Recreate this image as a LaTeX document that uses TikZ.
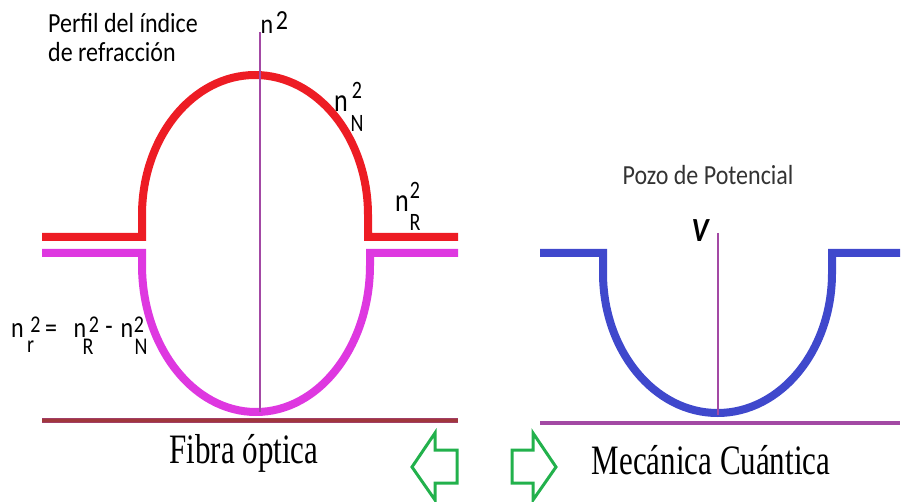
\documentclass[tikz,border=0pt]{standalone}
\usepackage{fontspec}
\usepackage{graphicx}
\newfontfamily\carlito{Carlito}
\newfontfamily\tnr{Liberation Serif}
\definecolor{cred}{HTML}{ED1C24}
\definecolor{cmag}{HTML}{DE38E0}
\definecolor{cblue}{HTML}{3F48CC}
\definecolor{caxis}{HTML}{A349A4}
\definecolor{cbase}{HTML}{A0373C}
\definecolor{cgreen}{HTML}{22B14C}
\begin{document}
\begin{tikzpicture}[x=1pt,y=-1pt,
  lbl/.style={font=\carlito\fontsize{24}{24}\selectfont, inner sep=0pt},
  big/.style={font=\carlito\fontsize{26}{26}\selectfont, inner sep=0pt},
  small/.style={font=\carlito\fontsize{20}{20}\selectfont, inner sep=0pt, text depth=0pt},
  title/.style={font=\tnr\fontsize{31}{31}\selectfont, inner sep=0pt},
  curve/.style={line width=8pt, line join=miter},
  axisline/.style={caxis, line width=2.5pt},
  garrow/.style={cgreen, line width=3pt, line join=miter}]
\useasboundingbox (0,0) rectangle (901,502);
% ---------- left: optical fibre ----------
\draw[cbase!60!caxis, line width=5pt] (42,420) -- (458,420);
\draw[cbase, line width=3pt] (42,420) -- (458,420);
\draw[curve, cred] (42,237) -- (142,237) -- (142,215)
  arc[start angle=180, end angle=360, x radius=113, y radius=140]
  -- (368,237) -- (458,237);
\draw[curve, cmag] (42,253) -- (142,253) -- (142,265)
  arc[start angle=180, end angle=0, x radius=114, y radius=147]
  -- (370,253) -- (458,253);
\draw[axisline] (260,32) -- (260,412);
% labels left
\node[lbl, anchor=base west] (t1) at (48,33) {\scalebox{1}[1.15]{Perfil del índice}};
\node[lbl, anchor=base west] (t2) at (48,62) {\scalebox{1}[1.15]{de refracción}};
\node[lbl] (ntop) at (267,27) {\scalebox{1}[1.15]{n}};
\node[lbl] (ntops) at (282,21) {\scalebox{1}[1.15]{2}};
\node[big] (nN) at (341,104) {\scalebox{1}[1.25]{n}};
\node[small] (nNs) at (357,90) {\scalebox{1}[1.25]{2}};
\node[small] (nNi) at (357,123) {\scalebox{1}[1.25]{N}};
\node[big] (nR) at (402,204) {\scalebox{1}[1.25]{n}};
\node[small] (nRs) at (415,190) {\scalebox{1}[1.25]{2}};
\node[small] (nRi) at (415,222) {\scalebox{1}[1.25]{R}};
% formula
\node[lbl] (f1) at (17.5,331) {\scalebox{1}[1.2]{n}};
\node[small] (f1s) at (35.5,325) {\scalebox{1}[1.2]{2}};
\node[small] (f1i) at (30.5,347) {\scalebox{1}[1.2]{r}};
\node[lbl] (feq) at (51,331) {\scalebox{1}[1.2]{=}};
\node[lbl] (f2) at (80,331) {\scalebox{1}[1.2]{n}};
\node[small] (f2i) at (88,347) {\scalebox{1}[1.2]{R}};
\node[small] (f2s) at (94,325) {\scalebox{1}[1.2]{2}};
\node[lbl] (fmin) at (109,331) {\scalebox{1}[1.2]{-}};
\node[lbl] (f3) at (127,331) {\scalebox{1}[1.2]{n}};
\node[small] (f3s) at (139,325) {\scalebox{1}[1.2]{2}};
\node[small] (f3i) at (141,347) {\scalebox{1}[1.2]{N}};
\node[title] (fibra) at (244,453) {\scalebox{1}[1.35]{Fibra óptica}};
% ---------- right: quantum well ----------
\draw[caxis, line width=4pt] (540,423) -- (900,423);
\draw[curve, cblue] (540,253) -- (603,253) -- (603,273)
  arc[start angle=180, end angle=0, x radius=114.5, y radius=140]
  -- (832,253) -- (900,253);
\draw[axisline] (718,233) -- (718,415);
\node[lbl, text=black!80] (pozo) at (708,175) {\scalebox{1}[1.15]{Pozo de Potencial}};
\node[big] (V) at (700,231) {\scalebox{1.1}[1.3]{\bfseries\itshape V}};
\node[title] (mec) at (711,460) {\scalebox{1}[1.35]{Mecánica Cuántica}};
% ---------- arrows ----------
\draw[garrow] (412,467) -- (435,433) -- (435,450) -- (457,450) -- (457,483)
  -- (435,483) -- (435,500) -- cycle;
\draw[garrow] (512,450) -- (533,450) -- (533,433) -- (556,467) -- (533,500)
  -- (533,483) -- (512,483) -- cycle;
\end{tikzpicture}
\end{document}
